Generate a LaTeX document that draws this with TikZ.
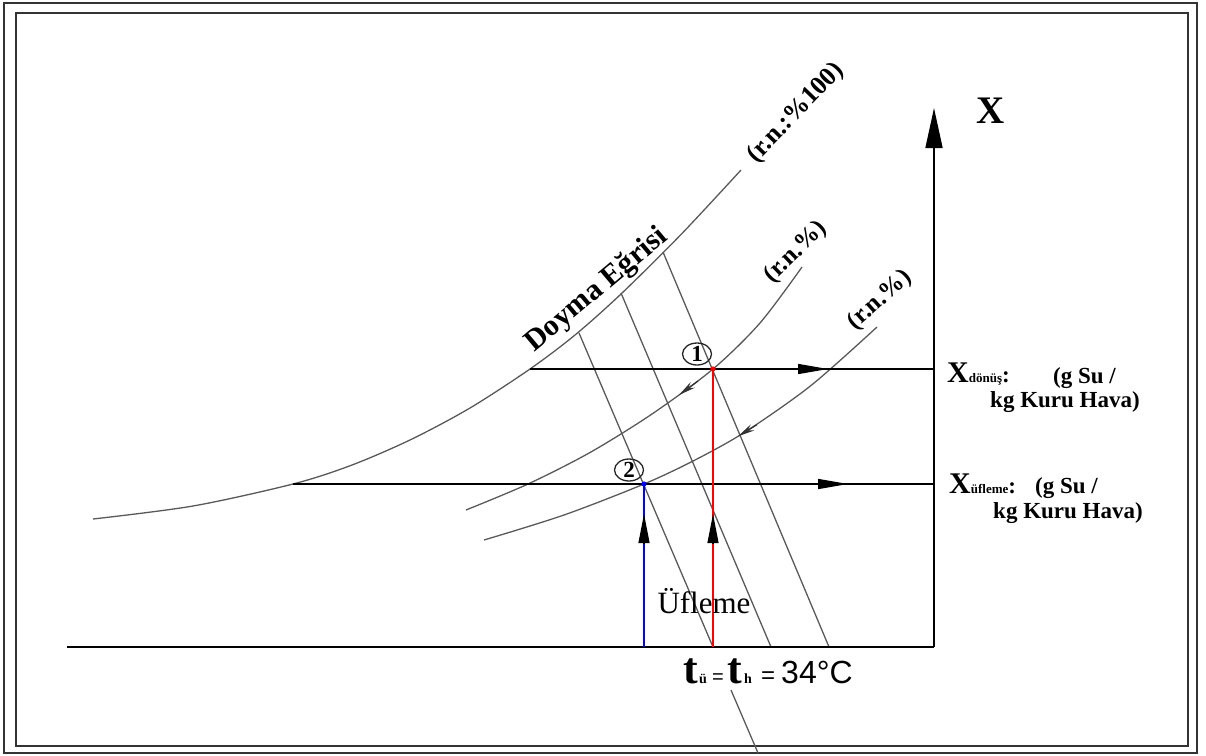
\documentclass[tikz,border=0pt]{standalone}
\usepackage{fontspec}
\setmainfont{Liberation Serif}
\newfontfamily\sansf{Liberation Sans}
\newfontfamily\serifb{Liberation Serif}[UprightFont=*-Bold]
\usetikzlibrary{arrows.meta,shapes.geometric}
\begin{document}
\begin{tikzpicture}[x=1pt,y=-1pt,
  frameline/.style={draw=black!80, line width=1.6pt},
  curveline/.style={draw=black!65, line width=1.3pt},
  isoline/.style={draw=black!65, line width=1.3pt},
  hline/.style={draw=black, line width=1.6pt},
  axtip/.style={-{Triangle[length=40pt,width=17pt]}},
  midtip/.style={draw=black, line width=1.4pt, -{Triangle[length=30pt,width=10pt]}},
  uptip/.style={draw=black, line width=1.2pt, -{Triangle[length=29pt,width=11pt]}},
  curvetip/.style={draw=black!80, line width=1.2pt, -{Stealth[length=17pt,width=7pt]}},
  circnum/.style={ellipse, draw=black!85, line width=1.3pt, inner sep=0pt, minimum width=29pt, minimum height=22pt, font=\serifb\fontsize{23}{23}\selectfont},
  lbl/.style={inner sep=0pt, font=\bfseries\fontsize{25}{27}\selectfont},
  unit/.style={inner sep=0pt, anchor=base west, font=\bfseries\fontsize{23}{25}\selectfont},
  tbig/.style={inner sep=0pt, anchor=base west, font=\serifb\fontsize{44}{46}\selectfont},
  tsub/.style={inner sep=0pt, anchor=base west, font=\serifb\fontsize{14}{15}\selectfont},
  teq/.style={inner sep=0pt, anchor=base west, font=\sansf\fontsize{#1}{24}\selectfont}
]
\useasboundingbox (0,0) rectangle (1206,755);
% frames
\draw[frameline] (4,3) rectangle (1197,753);
\draw[frameline] (16,13) rectangle (1188,746);

% key points
\coordinate (O) at (934,647);
\coordinate (Ytop) at (934,108);
\coordinate (Xleft) at (67,647);
\coordinate (P1) at (713,369);
\coordinate (P2) at (644,484);
\coordinate (P1b) at (713,647);
\coordinate (P2b) at (644,647);
\coordinate (H1l) at (530,369);
\coordinate (H1r) at (934,369);
\coordinate (H2l) at (293,484);
\coordinate (H2r) at (934,484);

% saturation curve
\draw[curveline] plot[smooth, tension=0.5] coordinates {(93,519) (193,506) (293,484) (352,465) (411,439.5) (470,408) (530,369) (575,335) (621,294) (681,234.5) (741,170)};
% r.n.% curves
\draw[curveline] plot[smooth, tension=0.5] coordinates {(466,510) (528,484) (590,452.5) (652,414) (713,369) (760,323) (802,267)};
\draw[curveline] plot[smooth, tension=0.5] coordinates {(484,540) (564,515) (644,484) (695,460) (745,432) (811,385.5) (877,327)};

% isotherm lines
\coordinate (A1) at (579,333); \coordinate (A2) at (713,647);
\coordinate (A3) at (731,690); \coordinate (A4) at (758,753);
\coordinate (B1) at (621,293); \coordinate (B2) at (771,647);
\coordinate (C1) at (663,252); \coordinate (C2) at (829,647);
\draw[isoline] (A1) -- (A2);
\draw[isoline] (A3) -- (A4);
\draw[isoline] (B1) -- (B2);
\draw[isoline] (C1) -- (C2);

% axes
\draw[hline] (Xleft) -- (O);
\draw[hline, axtip] (O) -- (Ytop);

% horizontal X lines
\draw[hline] (H1l) -- (H1r);
\draw[hline] (H2l) -- (H2r);
\coordinate (m1a) at (798,369); \coordinate (m1b) at (828,369);
\coordinate (m2a) at (817,484); \coordinate (m2b) at (848,484);
\draw[midtip] (m1a) -- (m1b);
\draw[midtip] (m2a) -- (m2b);

% vertical state lines
\draw[draw=red, line width=1.5pt] (P1b) -- (P1);
\draw[draw=blue, line width=1.5pt] (P2b) -- (P2);
\coordinate (u1a) at (713,544); \coordinate (u1b) at (713,514);
\coordinate (u2a) at (644,544); \coordinate (u2b) at (644,514);
\draw[uptip] (u1a) -- (u1b);
\draw[uptip] (u2a) -- (u2b);
\fill[red] (P1) circle (2.6pt);
\fill[blue] (P2) circle (2.6pt);

% curve arrows
\coordinate (ca1) at (698,381); \coordinate (cb1) at (679,395);
\coordinate (ca2) at (757,424.7); \coordinate (cb2) at (738,436.3);
\draw[curvetip] (ca1) -- (cb1);
\draw[curvetip] (ca2) -- (cb2);

% point labels
\node[circnum] (n1) at (697,354) {1};
\node[circnum] (n2) at (629,470) {2};

% curve labels
\node[lbl, rotate=40, font=\bfseries\fontsize{30}{32}\selectfont] (doyma) at (597,290) {Doyma Eğrisi};
\node[lbl, rotate=46, font=\bfseries\fontsize{26}{28}\selectfont] (rn100) at (796,113) {(r.n.:\%100)};
\node[lbl, rotate=44] (rn1) at (796,252) {(r.n.\%)};
\node[lbl, rotate=42] (rn2) at (880,300) {(r.n.\%)};

% X axis label
\node[inner sep=0pt, font=\bfseries\fontsize{39}{40}\selectfont] (Xlab) at (991,111) {X};

% X donus label
\node[unit] (xd) at (947,382) {{\fontsize{30}{30}\selectfont X}{\fontsize{13}{15}\selectfont dönüş}:};
\node[unit] (xd2) at (1053,383) {(g Su /};
\node[unit] (xd3) at (990,407) {kg Kuru Hava)};
% X ufleme label
\node[unit] (xu) at (949,493) {{\fontsize{30}{30}\selectfont X}{\fontsize{13}{15}\selectfont üfleme}:};
\node[unit] (xu2) at (1035,493) {(g Su /};
\node[unit] (xu3) at (993,518) {kg Kuru Hava)};

% Ufleme
\node[inner sep=0pt, font=\fontsize{31}{33}\selectfont] (uf) at (704,601) {Üfleme};

% temperature label
\node[tbig] (t1) at (683,683) {t};
\node[tsub] (s1) at (699,683) {ü};
\node[teq=20] (e1) at (712,683) {=};
\node[tbig] (t2) at (727,683) {t};
\node[tsub] (s2) at (744,683) {h};
\node[teq=24] (e2) at (761,683) {=};
\node[teq=32] (deg) at (781,683) {34°C};
\end{tikzpicture}
\end{document}
